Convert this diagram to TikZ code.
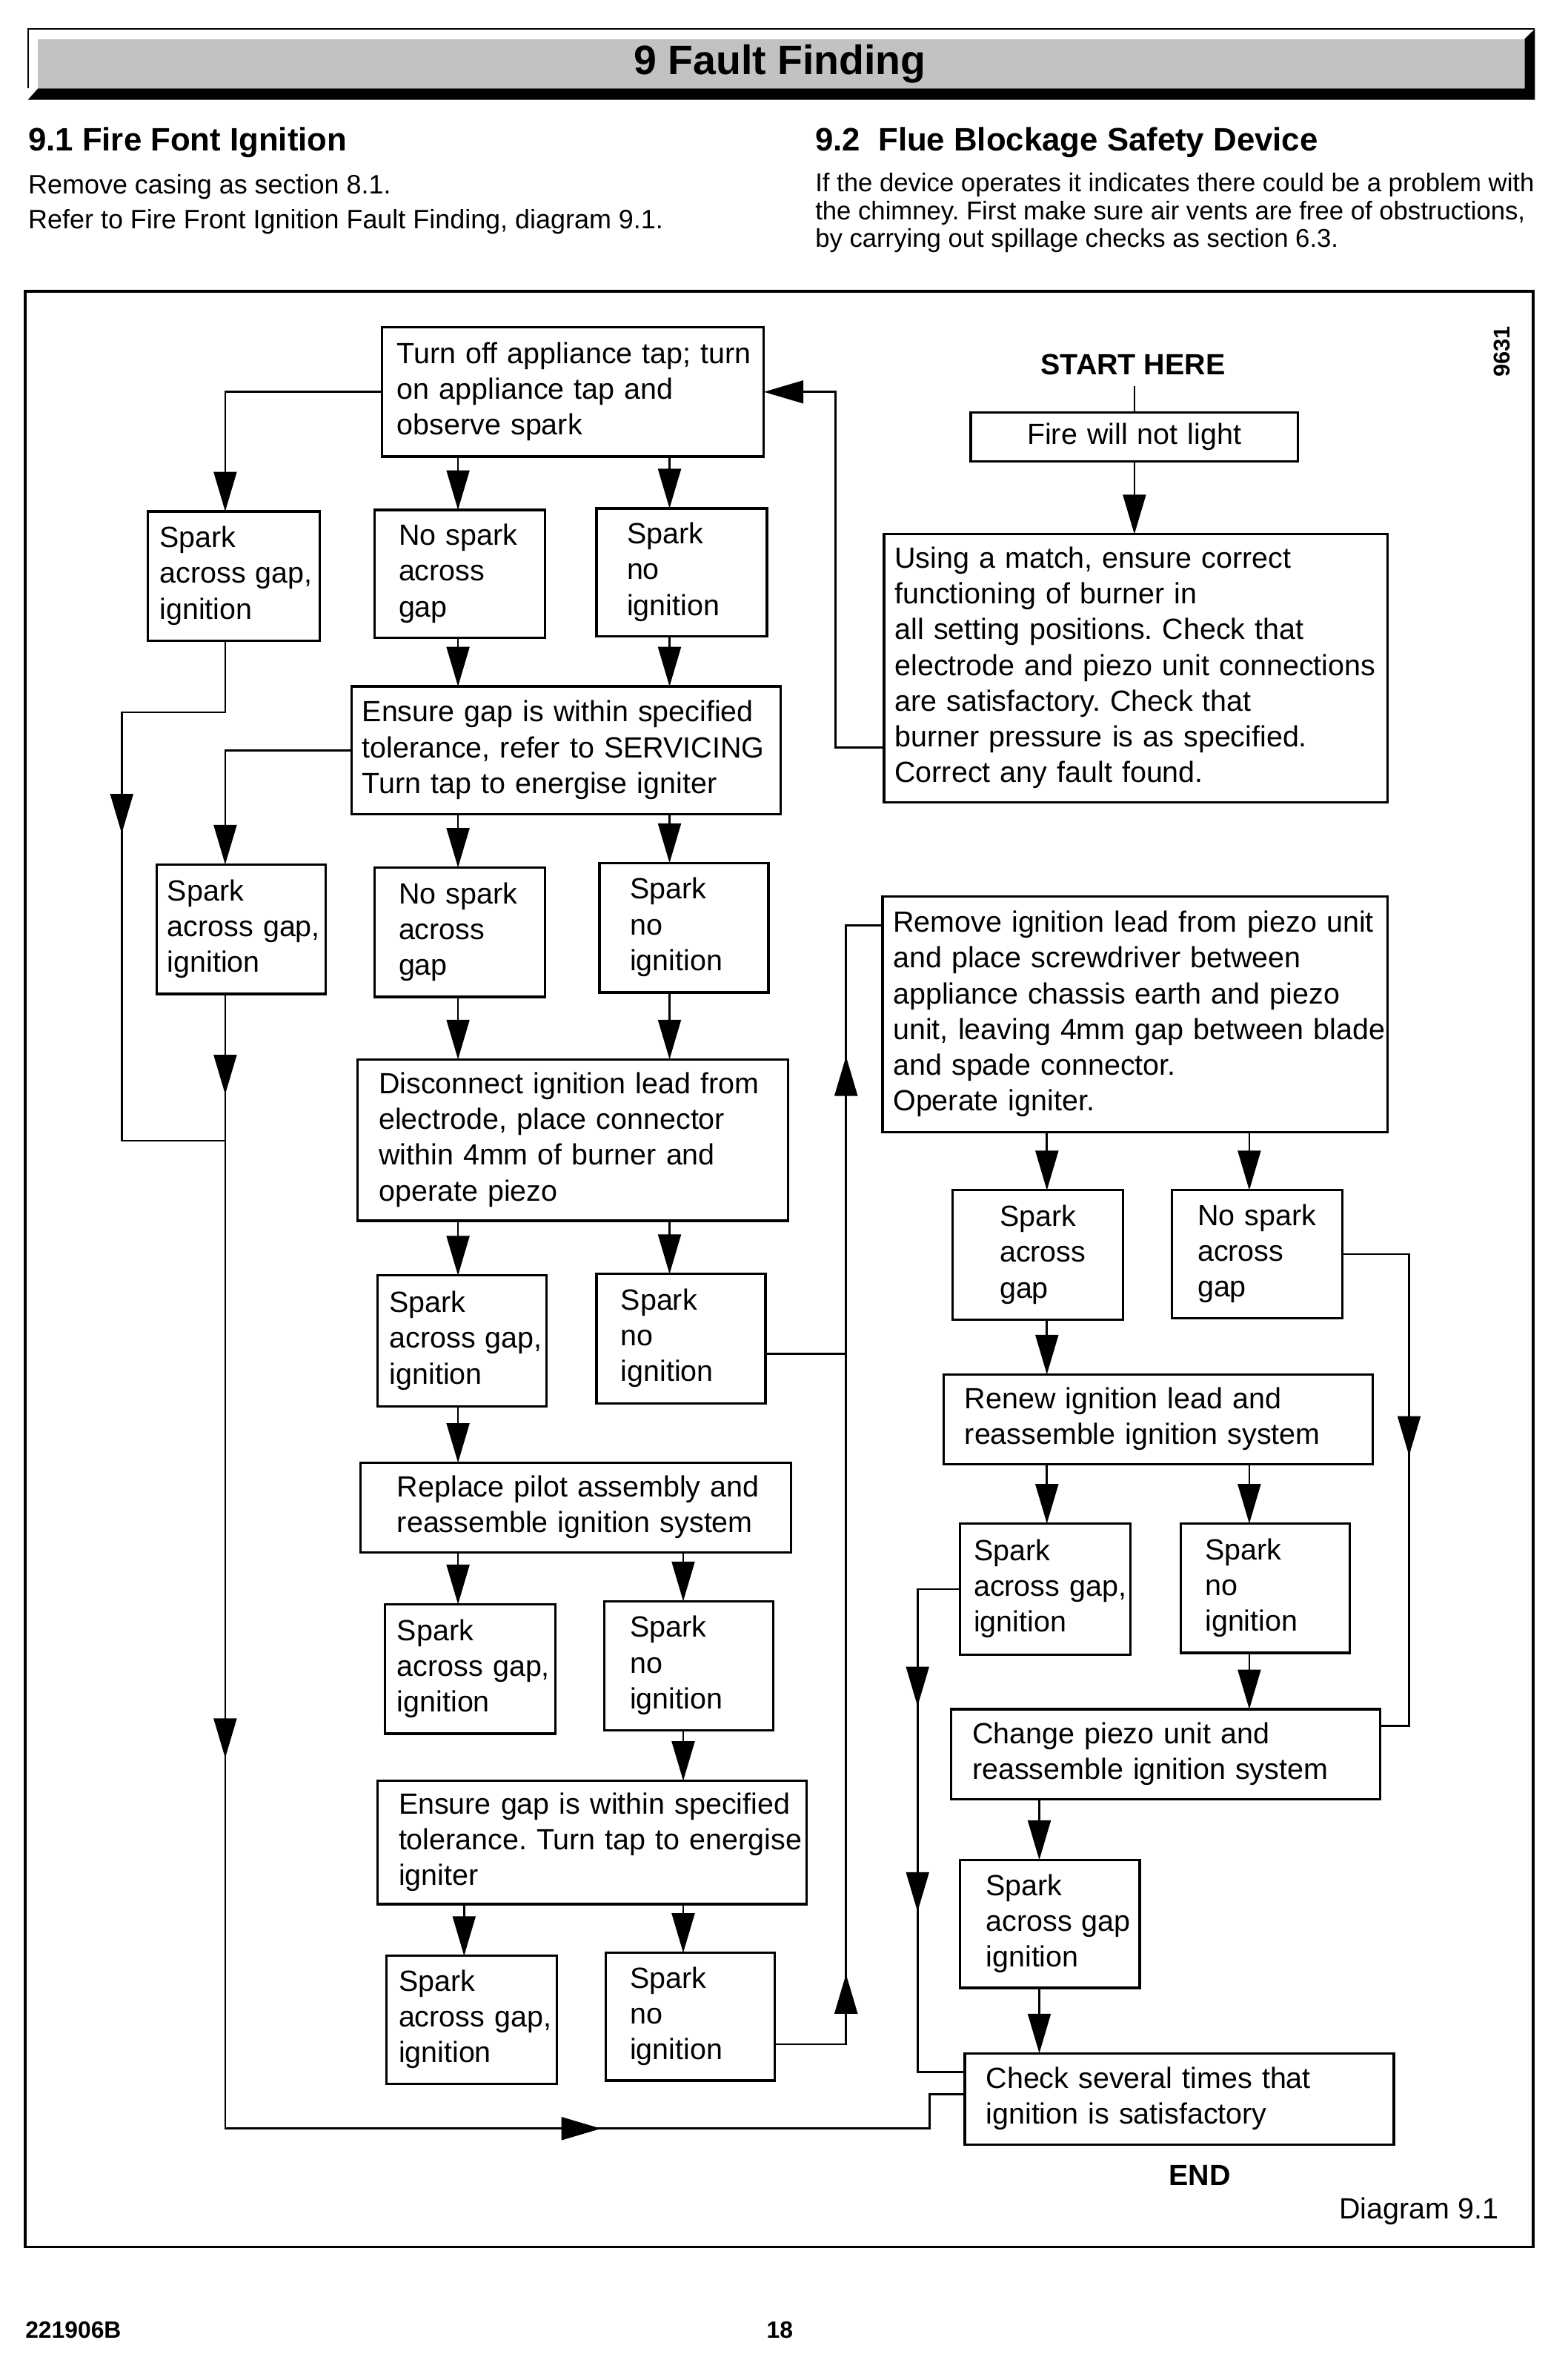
\documentclass[tikz,border=0pt]{standalone}
\usepackage{fontspec}
\setmainfont{Liberation Sans}
\usetikzlibrary{arrows.meta,decorations.markings}
\frenchspacing

\newcommand\boxfont{\fontsize{19.2}{23.5}\selectfont}
\newcommand\bodyfont{\fontsize{17.5}{21}\selectfont}
\newcommand\fluefont{\fontsize{16.9}{19}\selectfont}
\newcommand\headfont{\fontsize{21.3}{25}\selectfont\bfseries}
\newcommand\boxlines[1]{\begin{tabular}{@{}l@{}}#1\end{tabular}}

\begin{document}
\begin{tikzpicture}[x = 1pt, y = -1pt,
		>={Triangle[length=26pt, width=15pt]},
		box/.style={draw, line width=1.6pt, anchor=north west, inner ysep=0pt, outer sep=0pt, font=\boxfont},
		conn/.style={line width=1.3pt},
		tipat/.style={postaction={decorate, decoration={markings, mark=at position #1 with {\arrow{>}}}}},
		txt/.style={inner sep=0pt}]
		
		\useasboundingbox (0, 0) rectangle (1030, 1563.7);
		
		\fill[black!24] (25, 26) rectangle (1002, 58.1);
		\draw[line width=1.2pt] (18.4, 58.1) -- (18.4, 19) -- (1008.7, 19);
		\fill (18.4, 65.5) -- (25, 58.1) -- (1002, 58.1) -- (1002, 25.5) -- (1008.7, 19) -- (1008.7, 65.5) -- cycle;
		\node[txt, anchor=base, font=\fontsize{27}{32}\selectfont\bfseries] (title) at (512.5, 48.7) {9 Fault Finding};
		
		\node[txt, anchor=base west, font=\headfont] (head1) at (18.4, 99) {9.1 Fire Font Ignition};
		\node[txt, anchor=base west, font=\headfont] (head2) at (535.6, 99) {9.2\ \ Flue Blockage Safety Device};
		
		\node[txt, anchor=base west, font=\bodyfont] (casing) at (18.4, 127.4) {Remove casing as section 8.1.};
		\node[txt, anchor=base west, font=\bodyfont] (refer) at (18.4, 150) {Refer to Fire Front Ignition Fault Finding, diagram 9.1.};
		
		\node[txt, anchor=base west, font=\fluefont] (flue1) at (535.6, 126) {If the device operates it indicates there could be a problem with};
		\node[txt, anchor=base west, font=\fluefont] (flue2) at (535.6, 144.5) {the chimney. First make sure air vents are free of obstructions,};
		\node[txt, anchor=base west, font=\fluefont] (flue3) at (535.6, 162.5) {by carrying out spillage checks as section 6.3.};
		
		\draw[line width=1.8pt] (16.5, 191.5) rectangle (1007.7, 1476.3);
		\node[txt, rotate=90, font=\fontsize{15}{18}\selectfont\bfseries] (code) at (987, 231) {9631};
		
		\node[txt, anchor=base, inner ysep=7.5pt, font=\boxfont\bfseries] (start) at (744.6, 246) {START HERE};
		\node[box, text width=141pt, inner xsep=37pt, minimum height=32pt] (fire) at (638, 271) {\boxlines{Fire will not light}};
		\node[box, text width=317pt, inner xsep=7pt, minimum height=176pt] (using) at (581, 351) {\boxlines{Using a match, ensure correct\\functioning of burner in\\all setting positions. Check that\\electrode and piezo unit connections\\are satisfactory. Check that\\burner pressure is as specified.\\Correct any fault found.}};
		
		\node[box, text width=231pt, inner xsep=10pt, minimum height=85pt] (turn) at (251, 215) {\boxlines{Turn off appliance tap; turn\\on appliance tap and\\observe spark}};
		\node[box, text width=97pt, inner xsep=8pt, minimum height=85pt] (a1) at (97, 336) {\boxlines{Spark\\across gap,\\ignition}};
		\node[box, text width=80pt, inner xsep=16pt, minimum height=84pt] (a2) at (246, 335) {\boxlines{No spark\\across\\gap}};
		\node[box, text width=72pt, inner xsep=20pt, minimum height=84pt] (a3) at (392, 334) {\boxlines{Spark\\no\\ignition}};
		
		\node[box, text width=268pt, inner xsep=7pt, minimum height=84pt] (ens1) at (231, 451) {\boxlines{Ensure gap is within specified\\tolerance, refer to SERVICING\\Turn tap to energise igniter}};
		\node[box, text width=97pt, inner xsep=7pt, minimum height=85pt] (b1) at (103, 568) {\boxlines{Spark\\across gap,\\ignition}};
		\node[box, text width=80pt, inner xsep=16pt, minimum height=85pt] (b2) at (246, 570) {\boxlines{No spark\\across\\gap}};
		\node[box, text width=71pt, inner xsep=20pt, minimum height=85pt] (b3) at (394, 567) {\boxlines{Spark\\no\\ignition}};
		
		\node[box, text width=255pt, inner xsep=14pt, minimum height=106pt] (disc) at (235, 696) {\boxlines{Disconnect ignition lead from\\electrode, place connector\\within 4mm of burner and\\operate piezo}};
		\node[box, text width=95pt, inner xsep=8pt, minimum height=86pt] (d1) at (248, 838) {\boxlines{Spark\\across gap,\\ignition}};
		\node[box, text width=79pt, inner xsep=16pt, minimum height=85pt] (d2) at (392, 837) {\boxlines{Spark\\no\\ignition}};
		
		\node[box, text width=235pt, inner xsep=24pt, minimum height=59pt] (repl) at (237, 961) {\boxlines{Replace pilot assembly and\\reassemble ignition system}};
		\node[box, text width=96pt, inner xsep=8pt, minimum height=85pt] (f1) at (253, 1054) {\boxlines{Spark\\across gap,\\ignition}};
		\node[box, text width=77pt, inner xsep=17pt, minimum height=85pt] (f2) at (397, 1052) {\boxlines{Spark\\no\\ignition}};
		
		\node[box, text width=254pt, inner xsep=14pt, minimum height=81pt] (ens2) at (248, 1170) {\boxlines{Ensure gap is within specified\\tolerance. Turn tap to energise\\igniter}};
		\node[box, text width=96pt, inner xsep=8pt, minimum height=84pt] (h1) at (254, 1285) {\boxlines{Spark\\across gap,\\ignition}};
		\node[box, text width=79pt, inner xsep=16pt, minimum height=84pt] (h2) at (398, 1283) {\boxlines{Spark\\no\\ignition}};
		
		\node[box, text width=318pt, inner xsep=7pt, minimum height=155pt] (remove) at (580, 589) {\boxlines{Remove ignition lead from piezo unit\\and place screwdriver between\\appliance chassis earth and piezo\\unit, leaving 4mm gap between blade\\and spade connector.\\Operate igniter.}};
		\node[box, text width=50pt, inner xsep=31pt, minimum height=85pt] (r2a) at (626, 782) {\boxlines{Spark\\across\\gap}};
		\node[box, text width=78pt, inner xsep=17pt, minimum height=84pt] (r2b) at (770, 782) {\boxlines{No spark\\across\\gap}};
		
		\node[box, text width=254pt, inner xsep=14pt, minimum height=59pt] (renew) at (620, 903) {\boxlines{Renew ignition lead and\\reassemble ignition system}};
		\node[box, text width=94pt, inner xsep=9pt, minimum height=86pt] (r4a) at (631, 1001) {\boxlines{Spark\\across gap,\\ignition}};
		\node[box, text width=79pt, inner xsep=16pt, minimum height=85pt] (r4b) at (776, 1001) {\boxlines{Spark\\no\\ignition}};
		
		\node[box, text width=254pt, inner xsep=14pt, minimum height=59pt] (change) at (625, 1123) {\boxlines{Change piezo unit and\\reassemble ignition system}};
		\node[box, text width=84pt, inner xsep=17pt, minimum height=84pt] (r6) at (631, 1222) {\boxlines{Spark\\across gap\\ignition}};
		\node[box, text width=254pt, inner xsep=14pt, minimum height=60pt] (check) at (634, 1349) {\boxlines{Check several times that\\ignition is satisfactory}};
		
		\node[txt, anchor=base, font=\boxfont\bfseries] (endlabel) at (788.5, 1436) {END};
		\node[txt, anchor=base west, font=\boxfont] (diagram) at (880, 1457.8) {Diagram 9.1};
		
		\node[txt, anchor=base west, font=\fontsize{15.5}{18}\selectfont\bfseries] (docno) at (16.5, 1536) {221906B};
		\node[txt, anchor=base, font=\fontsize{15.5}{18}\selectfont\bfseries] (page) at (512.5, 1536) {18};
		
		\coordinate (xL) at (80, 0);
		\coordinate (xA) at (148, 0);
		\coordinate (xB) at (301, 0);
		\coordinate (xB2) at (305, 0);
		\coordinate (xC) at (440, 0);
		\coordinate (xC2) at (449, 0);
		\coordinate (xT) at (549, 0);
		\coordinate (xR) at (556, 0);
		\coordinate (xH) at (603, 0);
		\coordinate (xH2) at (611, 0);
		\coordinate (xE2) at (683, 0);
		\coordinate (xE) at (688, 0);
		\coordinate (xF) at (821, 0);
		\coordinate (xG) at (926, 0);
		
		\draw[conn] (fire.north) -- (fire.north |- start.south);
		\draw[conn, ->] (fire.south) -- (fire.south |- using.north);
		\draw[conn, ->] ([yshift=36pt]using.south west) -| (turn.east -| xT) -- (turn.east);
		
		\draw[conn, ->] (turn.west) -| (a1.north -| xA);
		\draw[conn, ->] (turn.south -| xB) -- (a2.north -| xB);
		\draw[conn, ->] (turn.south -| xC) -- (a3.north -| xC);
		\draw[conn, ->] (a2.south -| xB) -- (ens1.north -| xB);
		\draw[conn, ->] (a3.south -| xC) -- (ens1.north -| xC);
		\draw[conn, tipat=194.6pt] (a1.south -| xA) -- ++(0, 47) -- ++(-68, 0) -- ++(0, 281.5) -- ++(68, 0);
		
		\draw[conn, ->] (ens1.west) -| (b1.north -| xA);
		\draw[conn, ->] (ens1.south -| xB) -- (b2.north -| xB);
		\draw[conn, ->] (ens1.south -| xC) -- (b3.north -| xC);
		\draw[conn, ->] (b2.south -| xB) -- (disc.north -| xB);
		\draw[conn, ->] (b3.south -| xC) -- (disc.north -| xC);
		\draw[conn, tipat=66pt, tipat=502pt, tipat=992.5pt] (b1.south -| xA) -- ++(0, 745.5) -| ([yshift=3pt]check.west -| xH2) -- ([yshift=3pt]check.west);
		
		\draw[conn, ->] (disc.south -| xB) -- (d1.north -| xB);
		\draw[conn, ->] (disc.south -| xC) -- (d2.north -| xC);
		\draw[conn, ->] (d1.south -| xB) -- (repl.north -| xB);
		\draw[conn, ->] (repl.south -| xB) -- (f1.north -| xB);
		\draw[conn, ->] (repl.south -| xC2) -- (f2.north -| xC2);
		\draw[conn, ->] (f2.south -| xC2) -- (ens2.north -| xC2);
		\draw[conn, ->] (ens2.south -| xB2) -- (h1.north -| xB2);
		\draw[conn, ->] (ens2.south -| xC2) -- (h2.north -| xC2);
		
		\draw[conn, tipat=93pt, tipat=696pt] ([yshift=-18pt]h2.east) -| ([yshift=-19pt]remove.north west -| xR) -- ([yshift=-19pt]remove.north west);
		\draw[conn] ([yshift=-10pt]d2.east) -- ([yshift=-10pt]d2.east -| xR);
		
		\draw[conn, ->] (remove.south -| xE) -- (r2a.north -| xE);
		\draw[conn, ->] (remove.south -| xF) -- (r2b.north -| xF);
		\draw[conn, ->] (r2a.south -| xE) -- (renew.north -| xE);
		\draw[conn, tipat=176.4pt] (r2b.east) -| ([yshift=18.5pt]change.east -| xG) -- ([yshift=18.5pt]change.east);
		\draw[conn, ->] (renew.south -| xE) -- (r4a.north -| xE);
		\draw[conn, ->] (renew.south -| xF) -- (r4b.north -| xF);
		\draw[conn, ->] (r4b.south -| xF) -- (change.north -| xF);
		\draw[conn, tipat=105pt, tipat=240pt] (r4a.west) -| ([yshift=17.5pt]check.west -| xH) -- ([yshift=17.5pt]check.west);
		\draw[conn, ->] (change.south -| xE2) -- (r6.north -| xE2);
		\draw[conn, ->] (r6.south -| xE2) -- (check.north -| xE2);
		
	\end{tikzpicture}
\end{document}
